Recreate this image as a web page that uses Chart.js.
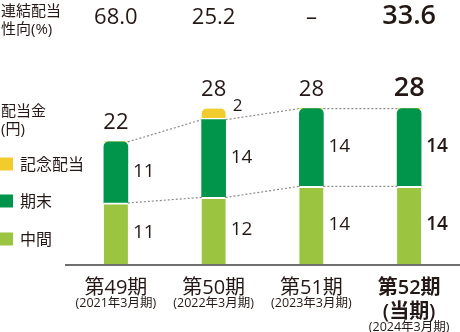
<!DOCTYPE html>
<html>
<head>
<meta charset="utf-8">
<script src="https://cdn.jsdelivr.net/npm/chart.js@4"></script>
<style>
  body { margin: 0; background: #fff; }
  canvas { display: block; }
</style>
</head>
<body>
<canvas id="dividendChart" width="460" height="332"></canvas>
<script>
// 各期のラベル
const periods = ['第49期', '第50期', '第51期', '第52期'];
const fiscalYears = ['(2021年3月期)', '(2022年3月期)', '(2023年3月期)', '(2024年3月期)'];
// 連結配当性向(%)
const payoutRatios = ['68.0', '25.2', '–', '33.6'];
// 配当金(円)
const interim = [11, 12, 14, 14];
const yearEnd = [11, 14, 14, 14];
const commemorative = [0, 2, 0, 0];

const TEXT = '#231815';
const FONT = '"Open Sans", "Noto Sans CJK JP", sans-serif';
const CURRENT = 3; // 当期

function font(size, bold) {
    return (bold ? '600 ' : '400 ') + size + 'px ' + FONT;
}

// 点線・ラベル・凡例などを描く
const decorations = {
    id: 'decorations',
    afterDatasetsDraw(chart) {
        const ctx = chart.ctx;
        const yScale = chart.scales.y;
        const xScale = chart.scales.x;
        const metaInterim = chart.getDatasetMeta(0);
        const metaEnd = chart.getDatasetMeta(1);
        const metaCom = chart.getDatasetMeta(2);
        ctx.save();

        // 点線
        ctx.strokeStyle = '#8a8a8a';
        ctx.lineWidth = 1.2;
        ctx.setLineDash([2, 2]);
        [metaInterim, metaEnd].forEach(meta => {
            for (let i = 0; i < meta.data.length - 1; i++) {
                const a = meta.data[i], b = meta.data[i + 1];
                ctx.beginPath();
                ctx.moveTo(a.x + a.width / 2, a.y);
                ctx.lineTo(b.x - b.width / 2, b.y);
                ctx.stroke();
            }
        });
        ctx.setLineDash([]);

        // 軸線
        ctx.strokeStyle = '#6f6f6f';
        ctx.lineWidth = 2;
        ctx.beginPath();
        ctx.moveTo(65, chart.chartArea.bottom + 1);
        ctx.lineTo(460, chart.chartArea.bottom + 1);
        ctx.stroke();

        ctx.fillStyle = TEXT;

        // 各セグメントの値
        ctx.textAlign = 'left';
        ctx.textBaseline = 'middle';
        [[metaInterim, interim, 0], [metaEnd, yearEnd, 0], [metaCom, commemorative, -7]].forEach(([meta, values, dy]) => {
            meta.data.forEach((el, i) => {
                if (!values[i]) return;
                const small = values === commemorative;
                ctx.font = font(small ? 17 : 19, i === CURRENT);
                ctx.fillText(values[i], el.x + el.width / 2 + (small ? 7 : 5), (el.y + el.base) / 2 + dy - 1);
            });
        });

        // 合計
        ctx.textAlign = 'center';
        ctx.textBaseline = 'alphabetic';
        periods.forEach((p, i) => {
            const total = interim[i] + yearEnd[i] + commemorative[i];
            const x = xScale.getPixelForValue(i);
            const y = yScale.getPixelForValue(total);
            ctx.font = font(i === CURRENT ? 27 : 22, i === CURRENT);
            ctx.fillText(total, x, y - 13);
        });

        // 連結配当性向
        payoutRatios.forEach((r, i) => {
            const x = xScale.getPixelForValue(i);
            ctx.font = font(i === CURRENT ? 27 : 22, i === CURRENT);
            ctx.fillText(r, x, 24);
        });
        ctx.textAlign = 'left';
        ctx.font = font(15, false);
        ctx.fillText('連結配当', 1, 16);
        ctx.fillText('性向(%)', 1, 34);
        ctx.fillText('配当金', 1, 116);
        ctx.fillText('(円)', 1, 134);

        // 凡例
        const legendY = [164, 201, 239];
        [2, 1, 0].forEach((d, k) => {
            const ds = chart.data.datasets[d];
            ctx.fillStyle = ds.backgroundColor;
            ctx.fillRect(0, legendY[k] - 6.5, 13, 13);
            ctx.fillStyle = TEXT;
            ctx.font = font(16, false);
            ctx.textBaseline = 'middle';
            ctx.fillText(ds.label, 20, legendY[k] + 1);
        });

        // 期ラベル
        ctx.textAlign = 'center';
        ctx.textBaseline = 'middle';
        periods.forEach((p, i) => {
            const x = xScale.getPixelForValue(i);
            const cur = i === CURRENT;
            ctx.font = font(20, cur);
            ctx.fillText(p, x, 288);
            if (cur) {
                ctx.fillText('(当期)', x, 312);
                ctx.font = font(12.5, false);
                ctx.fillText(fiscalYears[i], x, 327);
            } else {
                ctx.font = font(12.5, false);
                ctx.fillText(fiscalYears[i], x, 303);
            }
        });
        ctx.restore();
    }
};

const CTX = document.getElementById('dividendChart');
new Chart(CTX, {
    type: 'bar',
    data: {
        labels: periods,
        datasets: [{
            label: '中間',
            data: interim,
            backgroundColor: '#9bc441',
            borderColor: '#ffffff',
            borderWidth: { top: 2, left: 0, right: 0, bottom: 0 }
        }, {
            label: '期末',
            data: yearEnd,
            backgroundColor: '#00954a',
            borderRadius: 5,
            borderWidth: 0
        }, {
            label: '記念配当',
            data: commemorative,
            backgroundColor: '#f2cc2d',
            borderColor: '#ffffff',
            borderSkipped: false,
            borderRadius: { topLeft: 5, topRight: 5, bottomLeft: 0, bottomRight: 0 },
            borderWidth: { top: 0, left: 0, right: 0, bottom: 2 }
        }]
    },
    options: {
        responsive: false,
        animation: false,
        barThickness: 24,
        layout: { padding: { left: 67, right: 2, top: 42, bottom: 68 } },
        scales: {
            x: { stacked: true, display: false },
            y: { stacked: true, display: false, min: 0, max: 40 }
        },
        plugins: {
            legend: { display: false },
            tooltip: { enabled: false }
        }
    },
    plugins: [decorations]
});
</script>
</body>
</html>
